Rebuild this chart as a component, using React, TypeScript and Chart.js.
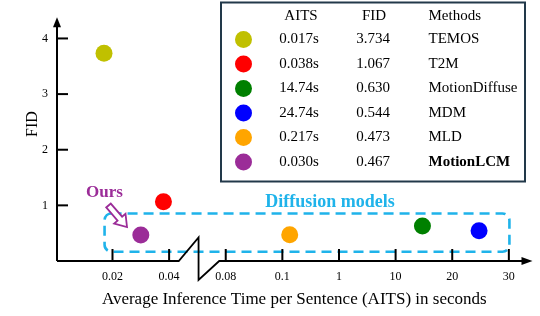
import React, { useEffect, useRef } from "react";
import { Chart, registerables } from "chart.js";

Chart.register(...registerables);

const methods = ["TEMOS", "T2M", "MotionDiffuse", "MDM", "MLD", "MotionLCM"];
const aits = [0.017, 0.038, 14.74, 24.74, 0.217, 0.03];
const aitsText = ["0.017s", "0.038s", "14.74s", "24.74s", "0.217s", "0.030s"];
const fid = [3.734, 1.067, 0.63, 0.544, 0.473, 0.467];
const fidText = ["3.734", "1.067", "0.630", "0.544", "0.473", "0.467"];
const colors = ["#c0c000", "#ff0000", "#008000", "#0000ff", "#ffa500", "#9b2c98"];
const xTickValues = [0.02, 0.04, 0.08, 0.1, 1, 10, 20, 30];
const xTickLabels = ["0.02", "0.04", "0.08", "0.1", "1", "10", "20", "30"];
const yTicks = [1, 2, 3, 4];

const SERIF = "'Liberation Serif', 'Times New Roman', serif";
const BLUE = "#1fb3ea";
const PURPLE = "#9b2c98";

// map an AITS value onto the broken axis: one tick slot per labelled value,
// linear between neighbouring ticks
function toSlot(v: number): number {
  const t = xTickValues;
  if (v <= t[0]) return (v - t[0]) / (t[1] - t[0]);
  for (let i = 0; i < t.length - 1; i++) {
    if (v <= t[i + 1]) return i + (v - t[i]) / (t[i + 1] - t[i]);
  }
  const n = t.length - 1;
  return n + (v - t[n]) / (t[n] - t[n - 1]);
}

const decorPlugin = {
  id: "decor",
  beforeDatasetsDraw(chart: any) {
    const ctx = chart.ctx;
    const xs = chart.scales.x;
    const ys = chart.scales.y;
    // dashed "Diffusion models" box
    const x0 = xs.getPixelForValue(-0.14);
    const x1 = xs.getPixelForValue(7.01);
    const y0 = ys.getPixelForValue(0.855);
    const y1 = ys.getPixelForValue(0.165);
    ctx.save();
    ctx.strokeStyle = BLUE;
    ctx.lineWidth = 2.6;
    ctx.setLineDash([10, 6]);
    ctx.beginPath();
    if (ctx.roundRect) ctx.roundRect(x0, y0, x1 - x0, y1 - y0, 7);
    else ctx.rect(x0, y0, x1 - x0, y1 - y0);
    ctx.stroke();
    ctx.setLineDash([]);
    ctx.fillStyle = BLUE;
    ctx.font = `bold 18px ${SERIF}`;
    ctx.textAlign = "center";
    ctx.textBaseline = "middle";
    ctx.fillText("Diffusion models", 330, 202);
    ctx.restore();
  },
  afterDatasetsDraw(chart: any) {
    const ctx = chart.ctx;
    const xs = chart.scales.x;
    const ys = chart.scales.y;
    const { left, right, top, bottom } = chart.chartArea;
    ctx.save();
    ctx.strokeStyle = "#000";
    ctx.fillStyle = "#000";
    ctx.lineWidth = 2;
    // y axis with arrow
    ctx.beginPath();
    ctx.moveTo(left, bottom);
    ctx.lineTo(left, top + 8);
    ctx.stroke();
    ctx.beginPath();
    ctx.moveTo(left, top + 1);
    ctx.lineTo(left - 4, top + 11);
    ctx.lineTo(left + 4, top + 11);
    ctx.closePath();
    ctx.fill();
    // x axis with break and arrow
    const b0 = xs.getPixelForValue(1.17);
    const b1 = xs.getPixelForValue(1.52);
    const b2 = xs.getPixelForValue(1.885);
    ctx.lineWidth = 1.8;
    ctx.beginPath();
    ctx.moveTo(left, bottom);
    ctx.lineTo(b0, bottom);
    ctx.lineTo(b1, bottom - 23.5);
    ctx.lineTo(b1, bottom + 19);
    ctx.lineTo(b2, bottom);
    ctx.lineTo(right - 8, bottom);
    ctx.stroke();
    ctx.beginPath();
    ctx.moveTo(right + 1, bottom);
    ctx.lineTo(right - 10, bottom - 4);
    ctx.lineTo(right - 10, bottom + 4);
    ctx.closePath();
    ctx.fill();
    // inner tick marks
    ctx.lineWidth = 2;
    xTickLabels.forEach((_, i) => {
      const px = xs.getPixelForValue(i);
      ctx.beginPath();
      ctx.moveTo(px, bottom);
      ctx.lineTo(px, bottom - 12);
      ctx.stroke();
    });
    yTicks.forEach((v) => {
      const py = ys.getPixelForValue(v);
      ctx.beginPath();
      ctx.moveTo(left, py);
      ctx.lineTo(left + 11, py);
      ctx.stroke();
    });
    // y title
    ctx.save();
    ctx.translate(33, 124);
    ctx.rotate(-Math.PI / 2);
    ctx.font = `16px ${SERIF}`;
    ctx.textAlign = "center";
    ctx.textBaseline = "middle";
    ctx.fillText("FID", 0, 0);
    ctx.restore();

    // "Ours" label and hollow arrow
    ctx.fillStyle = PURPLE;
    ctx.font = `bold 17px ${SERIF}`;
    ctx.textAlign = "center";
    ctx.textBaseline = "middle";
    ctx.fillText("Ours", 104.5, 193);
    {
      const tx = 108.5, ty = 205.5, hx = 127, hy = 227;
      const dx = hx - tx, dy = hy - ty;
      const L = Math.hypot(dx, dy);
      const ux = dx / L, uy = dy / L;
      const nx = -uy, ny = ux;
      const headLen = 11, sw = 3, hw = 7.5;
      const sx = tx + ux * (L - headLen), sy = ty + uy * (L - headLen);
      ctx.beginPath();
      ctx.moveTo(tx + nx * sw, ty + ny * sw);
      ctx.lineTo(sx + nx * sw, sy + ny * sw);
      ctx.lineTo(sx + nx * hw, sy + ny * hw);
      ctx.lineTo(hx, hy);
      ctx.lineTo(sx - nx * hw, sy - ny * hw);
      ctx.lineTo(sx - nx * sw, sy - ny * sw);
      ctx.lineTo(tx - nx * sw, ty - ny * sw);
      ctx.closePath();
      ctx.fillStyle = "#fff";
      ctx.fill();
      ctx.strokeStyle = PURPLE;
      ctx.lineWidth = 1.8;
      ctx.lineJoin = "miter";
      ctx.stroke();
    }

    // legend table
    const bx = 221, by = 2.5, bw = 304, bh = 179;
    ctx.fillStyle = "#fff";
    ctx.fillRect(bx, by, bw, bh);
    ctx.strokeStyle = "#22394a";
    ctx.lineWidth = 2;
    ctx.strokeRect(bx, by, bw, bh);
    ctx.fillStyle = "#000";
    ctx.font = `15px ${SERIF}`;
    ctx.textBaseline = "middle";
    const colAits = 299, colFid = 373, colName = 428.5, colDot = 243.5;
    const headY = 16, row0 = 39.5, rowH = 24.5;
    ctx.textAlign = "center";
    ctx.fillText("AITS", colAits + 2, headY);
    ctx.fillText("FID", colFid + 1, headY);
    ctx.textAlign = "left";
    ctx.fillText("Methods", colName, headY);
    methods.forEach((m, i) => {
      const yy = row0 + i * rowH;
      ctx.fillStyle = colors[i];
      ctx.beginPath();
      ctx.arc(colDot, yy, 8.5, 0, Math.PI * 2);
      ctx.fill();
      ctx.fillStyle = "#000";
      ctx.font = `15px ${SERIF}`;
      ctx.textAlign = "center";
      ctx.fillText(aitsText[i], colAits, yy);
      ctx.fillText(fidText[i], colFid, yy);
      ctx.textAlign = "left";
      if (m === "MotionLCM") ctx.font = `bold 15px ${SERIF}`;
      ctx.fillText(m, colName, yy);
    });
    ctx.restore();
  },
};

export default function App() {
  const ref = useRef<HTMLCanvasElement | null>(null);
  useEffect(() => {
    document.body.style.margin = "0";
    const canvas = ref.current;
    if (!canvas) return;
    const points = aits.map((v, i) => ({ x: toSlot(v), y: fid[i] }));
    const chart = new Chart(canvas, {
      type: "scatter",
      data: {
        datasets: [
          {
            label: "methods",
            data: points,
            pointBackgroundColor: colors,
            pointBorderWidth: 0,
            pointRadius: 8.5,
            pointHoverRadius: 8.5,
          },
        ],
      },
      options: {
        responsive: false,
        animation: false,
        events: [],
        layout: { padding: { top: 13.5, right: 3, left: 0, bottom: 0 } },
        plugins: { legend: { display: false }, tooltip: { enabled: false } },
        scales: {
          x: {
            type: "linear",
            min: -0.98,
            max: 7.4,
            afterBuildTicks: (s: any) => {
              s.ticks = xTickLabels.map((_, i) => ({ value: i }));
            },
            afterFit: (s: any) => {
              s.height = 55;
            },
            ticks: {
              callback: (v: any) => xTickLabels[v as number] ?? "",
              font: { family: SERIF, size: 12 },
              color: "#000",
              padding: 9,
              maxRotation: 0,
              autoSkip: false,
            },
            grid: { display: false, drawTicks: false },
            border: { display: false },
            title: {
              display: true,
              text: "Average Inference Time per Sentence (AITS) in seconds",
              font: { family: SERIF, size: 17 },
              color: "#000",
              padding: { top: 0, bottom: 6 },
            },
          },
          y: {
            type: "linear",
            min: 0,
            max: 4.4,
            afterBuildTicks: (s: any) => {
              s.ticks = yTicks.map((v) => ({ value: v }));
            },
            afterFit: (s: any) => {
              s.width = 57;
            },
            ticks: {
              font: { family: SERIF, size: 12 },
              color: "#000",
              padding: 9,
            },
            grid: { display: false, drawTicks: false },
            border: { display: false },
          },
        },
      },
      plugins: [decorPlugin],
    });
    return () => chart.destroy();
  }, []);
  return (
    <div style={{ width: 540, height: 316, background: "#fff" }}>
      <canvas ref={ref} width={540} height={316} style={{ display: "block" }} />
    </div>
  );
}
